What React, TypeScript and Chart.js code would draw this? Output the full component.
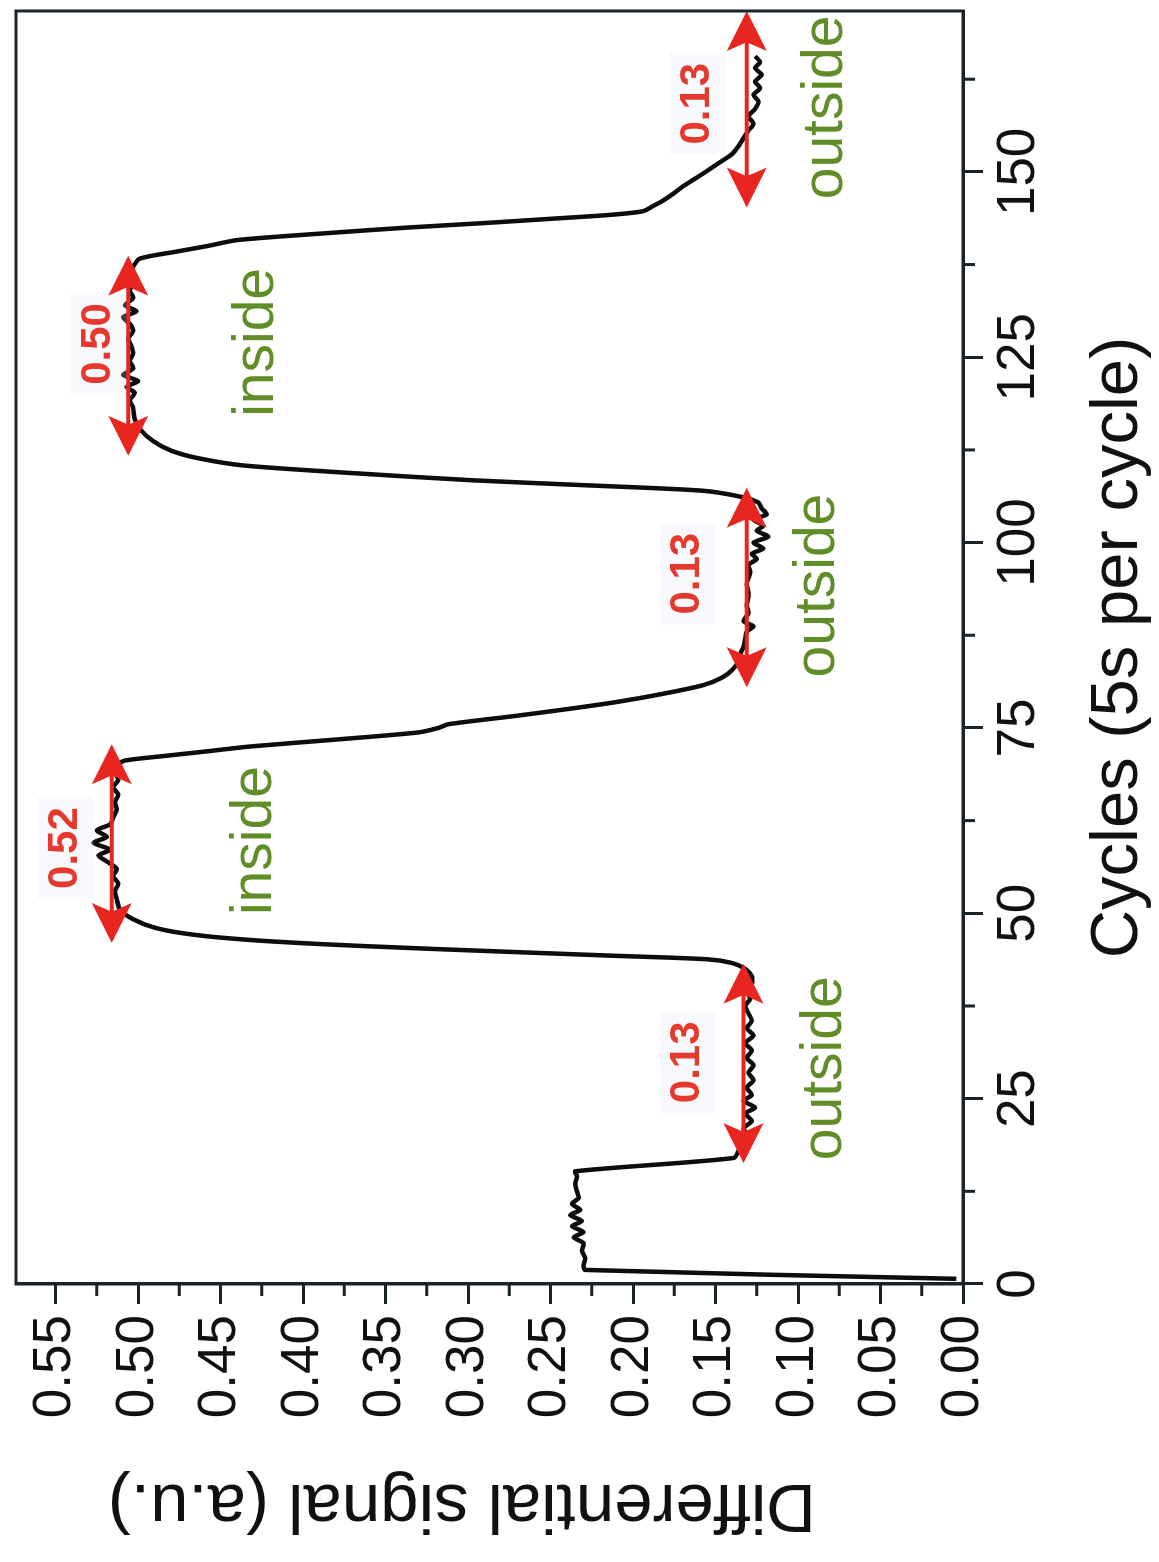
import React, { useEffect, useRef } from "react";
import { Chart, registerables } from "chart.js";

Chart.register(...registerables);

const FONT = "'Liberation Sans', Arial, Helvetica, sans-serif";

// ---- data (cycles, differential signal) ----
const cycles = [
  0.7, 1.9, 2.5, 3.5, 4.5, 5.5, 6.3, 7.0, 7.8, 8.5, 9.3, 10.0, 10.8, 11.6, 12.5, 13.5, 14.5, 15.2,
  17.0, 18, 19, 20, 21, 22, 23, 23.8, 24.7, 25.5, 26.5, 27.5, 28.5, 29.5, 30.5, 31.5, 32.5, 33.5,
  34.5, 35.5, 36.5, 37.5, 38.5, 39.5, 40.5, 41.5, 42.5, 43.3, 43.8, 44.3, 44.8, 45.3, 45.8, 46.4,
  47.1, 48.0, 49.2, 50.5, 52, 53, 54, 55, 56, 57, 57.8, 58.6, 59.5, 60.3, 61.2, 62.0, 63, 64, 65,
  66, 67, 68, 69, 70, 70.6, 71.2, 71.8, 72.5, 73.4, 74.4, 75.0, 75.5, 76.6, 77.6, 78.5, 79.6, 80.8,
  81.8, 82.8, 84.0, 85, 86, 87, 88, 88.7, 89.4, 90.5, 91.5, 93, 94.5, 96, 97, 97.8, 98.5, 99.2, 100,
  100.8, 101.6, 102.3, 103.1, 103.8, 104.6, 105.4, 106.2, 107.0, 107.7, 108.4, 109.4, 110.4, 111.4,
  112.4, 113.7, 115.1, 116.6, 118.2, 119.2, 120.2, 121.0, 121.8, 122.6, 123.5, 124.5, 125.5, 126.5,
  127.5, 128.5, 129.5, 130.4, 131.2, 132.0, 133, 134, 135, 136, 137.2, 138.3, 139.2, 140.0, 140.8,
  141.7, 142.5, 143.1, 143.7, 144.2, 144.7, 145.5, 146.1, 147.0, 148.0, 149.0, 150.0, 151.2, 152.4,
  153.5, 154.6, 155.6, 156.5, 157.5, 158.5, 159.5, 160.4, 161.3, 162.2, 163.1, 164.0, 164.8, 165.6,
];
const signal = [
  0.004, 0.229, 0.230, 0.229, 0.231, 0.230, 0.236, 0.230, 0.237, 0.231, 0.238, 0.232, 0.237, 0.233, 0.234, 0.235, 0.234, 0.235,
  0.139, 0.136, 0.134, 0.131, 0.133, 0.128, 0.132, 0.126, 0.133, 0.128, 0.131, 0.127, 0.130, 0.127, 0.131, 0.128, 0.132, 0.127,
  0.131, 0.128, 0.130, 0.132, 0.129, 0.131, 0.128, 0.128, 0.132, 0.140, 0.155, 0.215, 0.275, 0.333, 0.385, 0.432,
  0.466, 0.489, 0.503, 0.511, 0.513, 0.514, 0.512, 0.515, 0.513, 0.519, 0.524, 0.517, 0.527, 0.519, 0.525, 0.517, 0.515, 0.513, 0.514,
  0.512, 0.515, 0.512, 0.514, 0.512, 0.508, 0.485, 0.460, 0.432, 0.382, 0.330, 0.318, 0.312, 0.272, 0.238, 0.210, 0.182, 0.157,
  0.146, 0.140, 0.136, 0.135, 0.133, 0.132, 0.131, 0.127, 0.133, 0.130, 0.131, 0.130, 0.131, 0.129, 0.130, 0.125, 0.128, 0.121, 0.127,
  0.118, 0.125, 0.121, 0.127, 0.119, 0.122, 0.124, 0.135, 0.158, 0.225, 0.297, 0.372, 0.436, 0.464,
  0.480, 0.491, 0.498, 0.502, 0.503, 0.505, 0.502, 0.507, 0.500, 0.509, 0.503, 0.505, 0.503, 0.504,
  0.506, 0.503, 0.505, 0.509, 0.501, 0.508, 0.503, 0.505, 0.503, 0.505, 0.503, 0.499, 0.478, 0.458, 0.440,
  0.388, 0.336, 0.290, 0.248, 0.214, 0.194, 0.187, 0.182, 0.176, 0.170, 0.163, 0.156, 0.148, 0.140,
  0.136, 0.133, 0.130, 0.127, 0.130, 0.126, 0.124, 0.127, 0.123, 0.126, 0.122, 0.126, 0.123, 0.126,
];

// ---- axes ----
const xMin = 0;
const xMax = 171.7;
const xMajorStep = 25;
const xMinorStep = 12.5;
const yMin = 0;
const yMax = 0.574;
const yMajorStep = 0.05;
const yMinorStep = 0.025;
const xTitle = "Cycles (5s per cycle)";
const yTitle = "Differential signal (a.u.)";

// ---- annotations ----
const arrowSignal = [0.133, 0.516, 0.131, 0.506, 0.131];
const arrowFrom = [16.3, 46.0, 80.5, 111.7, 145.2];
const arrowTo = [43.2, 72.8, 107.4, 138.7, 171.7];
const valueLabels = ["0.13", "0.52", "0.13", "0.50", "0.13"];
const valueLabelCycle = [29.9, 58.8, 95.8, 126.8, 159.2];
const valueLabelSignal = [0.167, 0.544, 0.167, 0.524, 0.161];
const regionLabels = ["outside", "inside", "outside", "inside", "outside"];
const regionLabelCycle = [29.1, 59.8, 94.2, 127.0, 158.7];
const regionLabelSignal = [0.0836, 0.429, 0.088, 0.428, 0.083];

const AXIS_COLOR = "#1a2328";
const RED = "#e8261f";
const GREEN = "#618d28";

const decorations = {
  id: "decorations",
  afterDatasetsDraw(chart: any) {
    const { ctx } = chart;
    const x = chart.scales.x;
    const y = chart.scales.y;
    ctx.save();
    // faint boxes behind value labels
    ctx.font = `bold 42px ${FONT}`;
    for (let i = 0; i < valueLabels.length; i++) {
      const px = x.getPixelForValue(valueLabelCycle[i]);
      const py = y.getPixelForValue(valueLabelSignal[i]);
      const w = ctx.measureText(valueLabels[i]).width;
      ctx.fillStyle = "rgba(222,228,242,0.22)";
      ctx.fillRect(px - w / 2 - 10, py - 28, w + 20, 56);
    }
    // arrows
    ctx.strokeStyle = RED;
    ctx.fillStyle = RED;
    ctx.lineWidth = 4;
    const head = 40;
    const half = 20;
    for (let i = 0; i < arrowSignal.length; i++) {
      const yy = y.getPixelForValue(arrowSignal[i]);
      const x0 = x.getPixelForValue(arrowFrom[i]);
      const x1 = x.getPixelForValue(arrowTo[i]);
      ctx.beginPath();
      ctx.moveTo(x0 + head * 0.7, yy);
      ctx.lineTo(x1 - head * 0.7, yy);
      ctx.stroke();
      ctx.beginPath();
      ctx.moveTo(x0, yy);
      ctx.lineTo(x0 + head, yy - half);
      ctx.lineTo(x0 + head * 0.78, yy);
      ctx.lineTo(x0 + head, yy + half);
      ctx.closePath();
      ctx.fill();
      ctx.beginPath();
      ctx.moveTo(x1, yy);
      ctx.lineTo(x1 - head, yy - half);
      ctx.lineTo(x1 - head * 0.78, yy);
      ctx.lineTo(x1 - head, yy + half);
      ctx.closePath();
      ctx.fill();
    }
    // value labels
    ctx.textAlign = "center";
    ctx.textBaseline = "middle";
    ctx.fillStyle = "#e5392e";
    ctx.font = `bold 42px ${FONT}`;
    for (let i = 0; i < valueLabels.length; i++) {
      ctx.fillText(valueLabels[i], x.getPixelForValue(valueLabelCycle[i]), y.getPixelForValue(valueLabelSignal[i]));
    }
    // region labels
    ctx.fillStyle = GREEN;
    ctx.font = `57px ${FONT}`;
    for (let i = 0; i < regionLabels.length; i++) {
      ctx.fillText(regionLabels[i], x.getPixelForValue(regionLabelCycle[i]), y.getPixelForValue(regionLabelSignal[i]));
    }
    ctx.restore();
  },
  afterDraw(chart: any) {
    const { ctx, chartArea } = chart;
    const x = chart.scales.x;
    const y = chart.scales.y;
    ctx.save();
    ctx.strokeStyle = AXIS_COLOR;
    ctx.lineWidth = 3;
    ctx.strokeRect(chartArea.left, chartArea.top, chartArea.right - chartArea.left, chartArea.bottom - chartArea.top);
    // minor ticks
    ctx.beginPath();
    for (let v = xMinorStep; v <= xMax; v += xMajorStep) {
      const px = x.getPixelForValue(v);
      ctx.moveTo(px, chartArea.bottom);
      ctx.lineTo(px, chartArea.bottom + 12);
    }
    for (let v = yMinorStep; v <= yMax; v += yMajorStep) {
      const py = y.getPixelForValue(v);
      ctx.moveTo(chartArea.left, py);
      ctx.lineTo(chartArea.left - 12, py);
    }
    ctx.stroke();
    // y title
    ctx.translate(58, 462);
    ctx.rotate(-Math.PI / 2);
    ctx.fillStyle = "#111";
    ctx.font = `69px ${FONT}`;
    ctx.textAlign = "center";
    ctx.textBaseline = "middle";
    ctx.fillText(yTitle, 0, 0);
    ctx.restore();
  },
};

export default function App() {
  const ref = useRef<HTMLCanvasElement>(null);
  useEffect(() => {
    const canvas = ref.current;
    if (!canvas) return;
    const chart = new Chart(canvas, {
      type: "line",
      data: {
        datasets: [
          {
            data: cycles.map((c, i) => ({ x: c, y: signal[i] })),
            borderColor: "#0d0d0d",
            borderWidth: 4.5,
            pointRadius: 0,
            tension: 0.25,
            fill: false,
          },
        ],
      },
      options: {
        responsive: false,
        devicePixelRatio: 1,
        animation: false,
        events: [],
        layout: { padding: { top: 16, right: 11, left: 0, bottom: 0 } },
        plugins: { legend: { display: false }, tooltip: { enabled: false } },
        scales: {
          x: {
            type: "linear",
            min: xMin,
            max: xMax,
            afterFit: (s: any) => {
              s.height = 196;
              s.paddingLeft = 0;
              s.paddingRight = 0;
              s.paddingTop = 0;
              s.paddingBottom = 0;
            },
            grid: { display: true, drawOnChartArea: false, drawTicks: true, tickLength: 20, tickWidth: 3, tickColor: AXIS_COLOR },
            border: { display: true, width: 3, color: AXIS_COLOR },
            ticks: {
              stepSize: xMajorStep,
              includeBounds: false,
              autoSkip: false,
              maxRotation: 0,
              padding: 5,
              color: "#111",
              font: { family: FONT, size: 53 },
              callback: (v: any) => String(v),
            },
            title: { display: true, text: xTitle, color: "#111", font: { family: FONT, size: 67 }, padding: { top: 0, bottom: 0 } },
          },
          y: {
            type: "linear",
            min: yMin,
            max: yMax,
            afterFit: (s: any) => {
              s.width = 278;
              s.paddingLeft = 0;
              s.paddingRight = 0;
              s.paddingTop = 0;
              s.paddingBottom = 0;
            },
            grid: { display: true, drawOnChartArea: false, drawTicks: true, tickLength: 20, tickWidth: 3, tickColor: AXIS_COLOR },
            border: { display: true, width: 3, color: AXIS_COLOR },
            ticks: {
              stepSize: yMajorStep,
              includeBounds: false,
              autoSkip: false,
              padding: 11,
              color: "#111",
              font: { family: FONT, size: 53 },
              callback: (v: any) => Number(v).toFixed(2),
            },
          },
        },
      },
      plugins: [decorations],
    } as any);
    return () => chart.destroy();
  }, []);

  return (
    <div style={{ position: "absolute", left: 0, top: 0, width: 1159, height: 1562, overflow: "hidden", background: "#fff" }}>
      <div
        style={{
          position: "absolute",
          left: 0,
          top: 0,
          width: 1562,
          height: 1159,
          transformOrigin: "0 0",
          transform: "translate(0px, 1562px) rotate(-90deg)",
        }}
      >
        <canvas ref={ref} width={1562} height={1159} style={{ display: "block", width: 1562, height: 1159 }} />
      </div>
    </div>
  );
}
